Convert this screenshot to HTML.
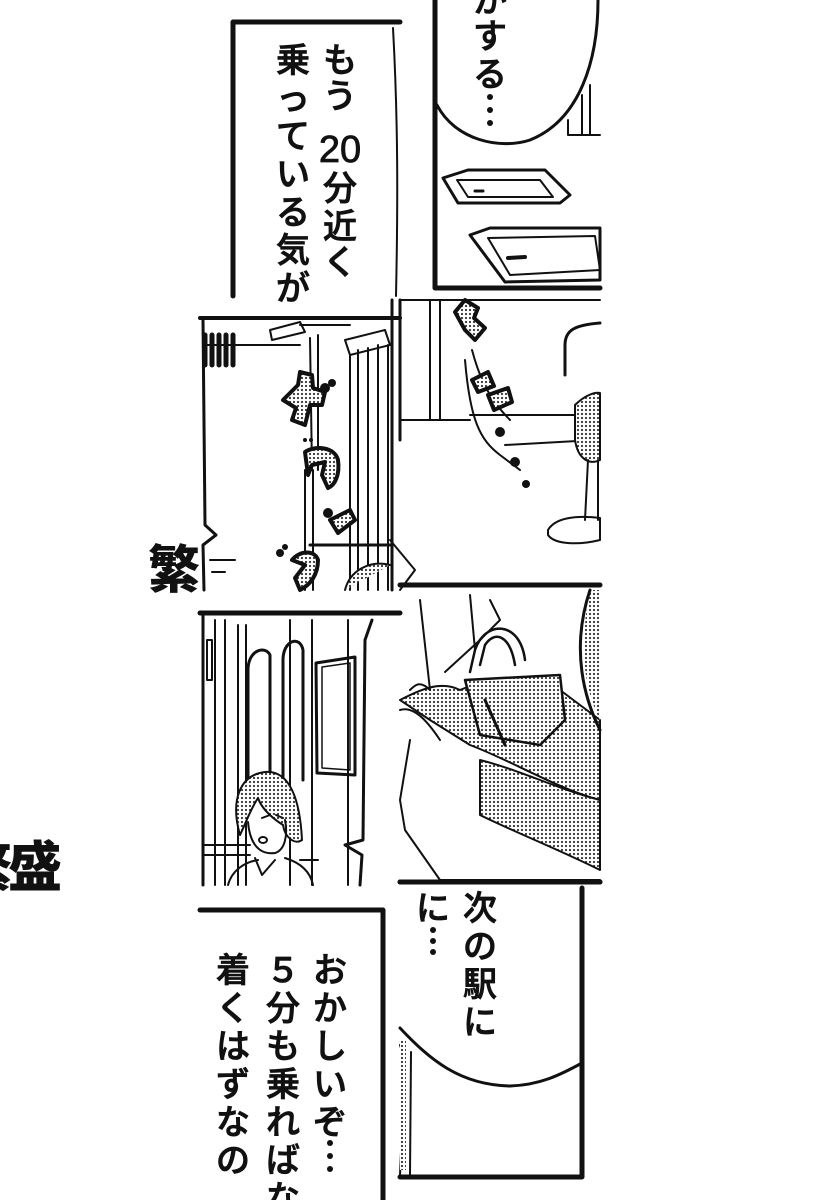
<!DOCTYPE html>
<html><head><meta charset="utf-8">
<style>
html,body{margin:0;padding:0;background:#fff;}
svg{display:block;}
.t{font-family:"Liberation Sans","Noto Sans CJK JP",sans-serif;fill:#111;stroke:#111;stroke-width:0.8;font-weight:500;}
.b{font-family:"Liberation Sans","Noto Sans CJK JP",sans-serif;font-weight:900;fill:#111;}
</style></head>
<body>
<svg width="820" height="1200" viewBox="0 0 820 1200" xmlns="http://www.w3.org/2000/svg">
<defs>
<pattern id="dot" width="4" height="4" patternUnits="userSpaceOnUse">
<rect width="4" height="4" fill="#fff"/><circle cx="2" cy="2" r="1.1" fill="#333"/>
</pattern>
</defs>
<g stroke="#111" fill="none" stroke-linecap="round" stroke-linejoin="round">

<polyline points="233,296 233,22 400,22" stroke-width="5"/>
<path d="M393,28 C398,120 398,200 396,296" stroke-width="2"/>

<polyline points="435,0 435,288 600,288" stroke-width="5"/>
<path d="M437,105 C455,140 500,150 530,140 C580,120 598,60 598,0" stroke-width="3"/>
<path d="M568,120 L568,135 L600,135 M582,95 L582,135 M590,85 L590,135" stroke-width="2"/>
<path d="M443,178 L468,170 L545,170 L570,195 L560,203 L458,203 Z" stroke-width="3"/>
<path d="M457,180 L540,180 L553,197 L468,197 Z" stroke-width="2"/>
<path d="M470,235 L490,228 L600,228 L600,280 L505,282 Z" stroke-width="3"/>
<path d="M488,238 L595,236 L600,270 L510,275 Z" stroke-width="2"/>
<path d="M508,258 L525,257" stroke-width="4"/>
<path d="M475,191 L483,191" stroke-width="3"/>

<polyline points="200,318 400,318" stroke-width="4"/>
<path d="M203,320 L205,525 L216,535 L203,545 L204,590" stroke-width="3"/>
<path d="M205,345 L300,345 M300,325 L350,325" stroke-width="2"/>
<path d="M205,335 v30 M212,335 v30 M219,335 v30 M226,335 v30 M233,335 v30" stroke-width="5"/>
<path d="M270,330 L300,322 L305,332 L272,340 Z" stroke-width="2"/>
<path d="M310,338 L312,470 M318,335 L318,470 M305,470 L305,590 M313,470 L313,590" stroke-width="2"/>
<path d="M345,340 L385,330 L390,345 L350,355 Z" stroke-width="2"/>
<path d="M350,355 L350,590 M358,350 L358,590 M368,348 L368,590 M378,345 L378,590 M388,345 L388,590" stroke-width="2"/>
<path d="M310,545 L390,545" stroke-width="3"/>
<path d="M210,560 L235,560 M212,572 L225,572" stroke-width="2"/>
<path d="M345,590 C350,570 370,560 390,565" stroke-width="2" fill="url(#dot)"/>
<path d="M392,300 L392,590 M400,300 L400,440" stroke-width="3"/>
<path d="M390,540 L415,570 L400,590" stroke-width="2"/>

<path d="M400,420 L470,420 M470,415 L585,415 M400,300 L600,300" stroke-width="2"/>
<path d="M565,375 L565,345 C565,330 575,325 600,323" stroke-width="3"/>
<path d="M430,300 L430,420 M440,300 L440,420" stroke-width="2"/>
<path d="M465,360 C470,420 480,440 500,455 L520,470" stroke-width="2"/>
<path d="M472,350 C480,380 490,400 510,420" stroke-width="2"/>
<path d="M505,445 L595,440" stroke-width="2"/>
<path d="M575,405 C585,395 595,392 600,393 L600,460 C590,465 578,460 575,440 Z" fill="url(#dot)" stroke-width="2"/>
<path d="M588,460 L585,520 M598,460 L598,520" stroke-width="2"/>
<path d="M548,530 C555,518 575,515 600,518 L600,540 C580,545 555,545 548,535 Z" stroke-width="2"/>
<path d="M400,585 L600,585" stroke-width="5"/>
<g fill="url(#dot)" stroke-width="4">
<path d="M283,400 L298,385 L300,372 L312,375 L313,388 L325,392 L322,405 L310,405 L305,425 L292,420 L296,408 Z"/>
<path d="M305,452 C315,445 335,447 338,460 C340,475 335,485 328,488 L322,475 L325,462 L312,465 L308,475 Z"/>
<path d="M330,520 L350,510 L355,520 L338,533 Z"/>
<path d="M292,560 C300,550 315,550 318,560 C318,575 310,585 300,590 L295,578 L305,565 Z"/>
<path d="M455,312 L465,300 L478,308 L474,318 L485,328 L475,340 L465,330 Z"/>
<path d="M472,380 L488,372 L494,386 L478,392 Z"/>
<path d="M488,395 L508,388 L512,402 L494,410 Z"/>
</g>
<g fill="#111" stroke="none">
<circle cx="325" cy="388" r="5"/><circle cx="332" cy="383" r="4"/>
<circle cx="305" cy="440" r="2"/><circle cx="311" cy="440" r="2"/>
<circle cx="328" cy="513" r="5"/>
<circle cx="280" cy="553" r="4"/><circle cx="285" cy="547" r="3"/>
<circle cx="500" cy="432" r="5"/><circle cx="515" cy="462" r="5"/><circle cx="526" cy="484" r="4"/>
</g>
<text x="148" y="588" class="b" font-size="52" stroke="none">繁</text>

<path d="M200,613 L400,613" stroke-width="5"/>
<path d="M203,615 L203,885" stroke-width="3"/>
<path d="M215,620 L215,885 M225,620 L225,885 M238,625 L238,885 M246,625 L246,885 M290,620 L290,885 M312,620 L312,885 M348,620 L348,885" stroke-width="2"/>
<path d="M207,640 L212,640 L212,680 L207,680 Z" stroke-width="2"/>
<path d="M248,780 L248,670 C248,650 265,645 270,655 L270,780" stroke-width="3"/>
<path d="M283,780 L283,660 C283,640 300,635 303,650 L303,780" stroke-width="3"/>
<path d="M316,663 L355,657 L355,775 L317,773 Z" stroke-width="3"/>
<path d="M322,667 L350,663 L350,770 L322,768 Z" stroke-width="1.5"/>
<path d="M372,620 L365,640 L363,840 L345,845 L362,855 L360,885" stroke-width="3"/>
<path d="M203,845 L250,845 M203,855 L250,855 M300,860 L318,860" stroke-width="2"/>
<path d="M240,835 C230,800 240,775 265,772 C290,770 300,800 302,840 C295,845 285,838 283,825 C275,820 262,810 258,798 C250,810 245,825 240,835 Z" fill="url(#dot)" stroke-width="2"/>
<path d="M248,822 C250,845 260,855 275,853 C285,850 288,835 285,820" stroke-width="2"/>
<path d="M262,818 L270,815 M276,815 L283,818" stroke-width="2"/>
<ellipse cx="263" cy="840" rx="4" ry="3" stroke-width="2"/>
<path d="M228,885 C232,870 245,862 258,860 M285,858 C298,862 310,870 313,885 M255,858 L262,875 L275,860" stroke-width="2"/>

<path d="M400,700 C420,690 440,680 460,690 L485,680 L560,690 L600,720 L600,800 C560,790 510,760 470,745 L430,720 Z" fill="url(#dot)" stroke-width="2"/>
<path d="M555,590 L600,590 L600,720 C585,690 578,650 590,590 Z" fill="url(#dot)" stroke="none"/>
<path d="M590,590 C570,650 585,700 600,730" stroke-width="3"/>
<path d="M400,710 C415,705 430,725 440,740 M410,740 L400,800 L405,830 L440,880 L600,880" stroke-width="2"/>
<path d="M480,760 C520,770 560,790 600,800 L600,870 C560,850 510,830 480,815 Z" fill="url(#dot)" stroke-width="2"/>
<path d="M470,672 L475,650 C485,620 520,620 525,660 M480,665 L485,645 C495,630 510,635 515,665" stroke-width="2.5"/>
<path d="M465,680 L560,675 L565,720 L540,745 L480,735 Z" fill="url(#dot)" stroke-width="2.5"/>
<path d="M470,595 L475,650 M420,600 L430,690 C420,680 415,685 410,690 M490,600 L500,620 L480,640 L445,672" stroke-width="2"/>
<path d="M485,700 L505,745" stroke-width="3"/>
<path d="M400,882 L600,882" stroke-width="5"/>

<polyline points="200,910 383,910 383,1200" stroke-width="5"/>

<polyline points="400,882 600,882" stroke-width="5"/>
<polyline points="582,888 582,1177 400,1177" stroke-width="5"/>
<path d="M400,1028 C430,1060 460,1085 510,1086 C540,1085 560,1075 582,1063" stroke-width="3"/>
<path d="M400,1045 L405,1060 L400,1175 M411,1052 L410,1175" stroke-width="2"/>
<rect x="400" y="1040" width="6" height="130" fill="url(#dot)" stroke="none"/>
</g>

<g class="t" font-size="34" text-anchor="middle">
<text x="340" y="72">も</text><text x="340" y="108">う</text>
<text x="340" y="162" font-size="38">20</text>
<text x="340" y="200">分</text><text x="340" y="238">近</text><text x="340" y="274">く</text>
<text x="293" y="72">乗</text><text x="293" y="110">っ</text><text x="293" y="148">て</text>
<text x="293" y="186">い</text><text x="293" y="224">る</text><text x="293" y="262">気</text><text x="293" y="300">が</text>
<text x="490" y="12">か</text><text x="490" y="48">す</text><text x="490" y="86">る</text>
</g>
<g class="t" font-size="34" text-anchor="middle">
<text x="330" y="982">お</text><text x="330" y="1020">か</text><text x="330" y="1058">し</text>
<text x="330" y="1096">い</text><text x="330" y="1134">ぞ</text>
<text x="283" y="982">５</text><text x="283" y="1020">分</text><text x="283" y="1058">も</text>
<text x="283" y="1096">乗</text><text x="283" y="1134">れ</text><text x="283" y="1172">ば</text>
<text x="283" y="1210">な</text>
<text x="233" y="982">着</text><text x="233" y="1020">く</text><text x="233" y="1058">は</text>
<text x="233" y="1096">ず</text><text x="233" y="1134">な</text><text x="233" y="1172">の</text>
<text x="480" y="920">次</text><text x="480" y="958">の</text><text x="480" y="996">駅</text><text x="480" y="1034">に</text>
<text x="433" y="920">に</text>
</g>
<g fill="#111">
<circle cx="433" cy="930" r="3"/><circle cx="433" cy="941" r="3"/><circle cx="433" cy="952" r="3"/>
<circle cx="490" cy="97" r="3"/><circle cx="490" cy="110" r="3"/><circle cx="490" cy="123" r="3"/>
<circle cx="330" cy="1143" r="3"/><circle cx="330" cy="1156" r="3"/><circle cx="330" cy="1169" r="3"/>
</g>
<text x="8" y="886" class="b" font-size="54">盛</text>
<text x="-42" y="886" class="b" font-size="54">繁</text>
</svg>
</body></html>
